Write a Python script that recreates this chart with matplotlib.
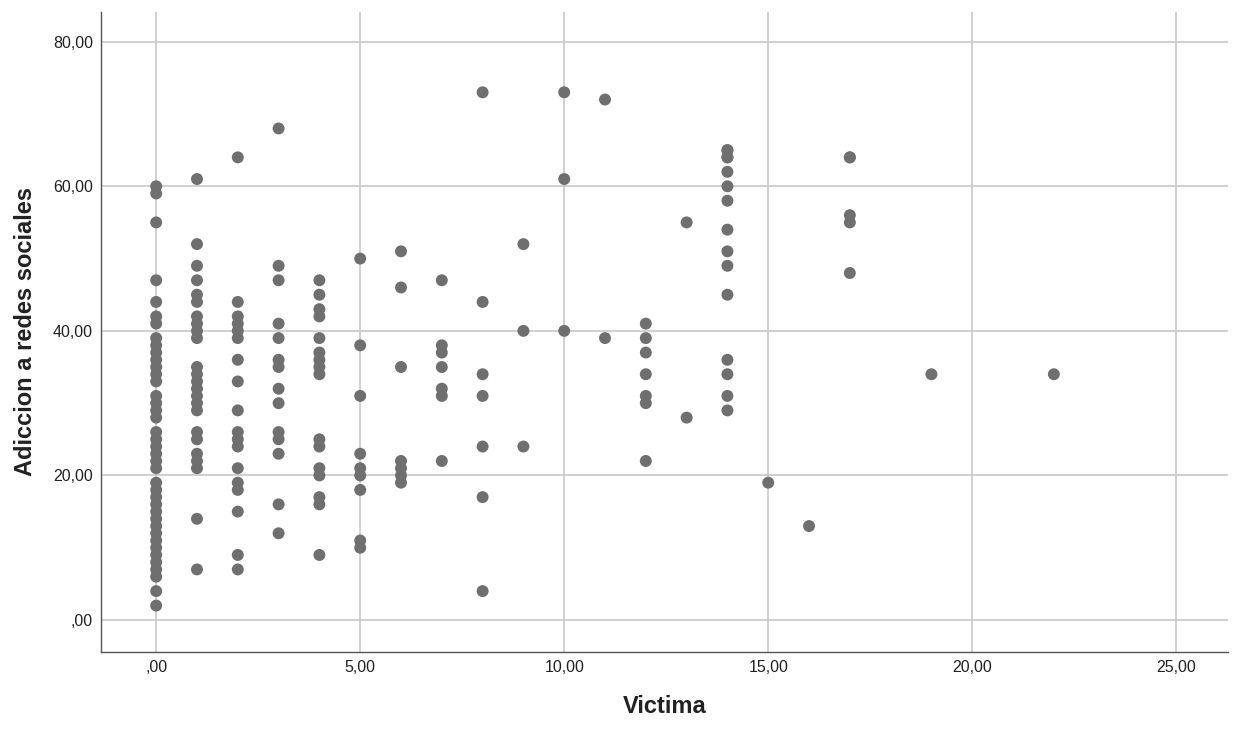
import matplotlib
matplotlib.use("Agg")
import matplotlib.pyplot as plt
from matplotlib.ticker import FuncFormatter

plt.rcParams['font.family'] = ['Liberation Sans', 'DejaVu Sans']

# Victima value -> list of "Adiccion a redes sociales" values
x_levels = [0, 1, 2, 3, 4, 5, 6, 7, 8, 9, 10, 11, 12, 13, 14, 15, 16, 17, 19, 22]
y_groups = [
    [60, 59, 55, 47, 44, 42, 41, 39, 38, 37, 36, 35, 34, 33, 31, 30, 29, 28,
     26, 25, 24, 23, 22, 21, 19, 18, 17, 16, 15, 14, 13, 12, 11, 10, 9, 8, 7, 6, 4, 2],
    [61, 52, 49, 47, 45, 44, 42, 41, 40, 39, 35, 34, 33, 32, 31, 30, 29,
     26, 25, 23, 22, 21, 14, 7],
    [64, 44, 42, 41, 40, 39, 36, 33, 29, 26, 25, 24, 21, 19, 18, 15, 9, 7],
    [68, 49, 47, 41, 39, 36, 35, 32, 30, 26, 25, 23, 16, 12],
    [47, 45, 43, 42, 39, 37, 36, 35, 34, 25, 24, 21, 20, 17, 16, 9],
    [50, 38, 31, 23, 21, 20, 18, 11, 10],
    [51, 46, 35, 22, 21, 20, 19],
    [47, 38, 37, 35, 32, 31, 22],
    [73, 44, 34, 31, 24, 17, 4],
    [52, 40, 24],
    [73, 61, 40],
    [72, 39],
    [41, 39, 37, 34, 31, 30, 22],
    [55, 28],
    [65, 65, 64, 64, 62, 60, 58, 54, 51, 49, 45, 36, 34, 31, 29],
    [19],
    [13],
    [64, 64, 56, 55, 48],
    [34],
    [34],
]

x_ticks = [0, 5, 10, 15, 20, 25]
y_ticks = [0, 20, 40, 60, 80]
x_title = "Victima"
y_title = "Adiccion a redes sociales"

xs, ys = [], []
for xv, grp in zip(x_levels, y_groups):
    for yv in grp:
        xs.append(xv)
        ys.append(yv)

fig = plt.figure(figsize=(12.33, 7.31), dpi=100)
ax = fig.add_axes([0.082, 0.108, 0.914, 0.876])

ax.scatter(xs, ys, s=74, color='#6f6f6f', edgecolors='none', zorder=3)

ax.set_xlim(-1.35, 26.27)
ax.set_ylim(-4.43, 84.15)
ax.set_xticks(x_ticks)
ax.set_yticks(y_ticks)

def fmt(v, pos):
    s = f"{v:.2f}".replace('.', ',')
    if s.startswith('0,'):
        s = s[1:]
    return s

ax.xaxis.set_major_formatter(FuncFormatter(fmt))
ax.yaxis.set_major_formatter(FuncFormatter(fmt))

ax.grid(True, color='#c8c8c8', linewidth=1.2, zorder=0)
ax.set_axisbelow(True)
for sp in ['top', 'right']:
    ax.spines[sp].set_visible(False)
for sp in ['left', 'bottom']:
    ax.spines[sp].set_color('#555555')
    ax.spines[sp].set_linewidth(1.0)

ax.tick_params(axis='both', length=0, labelsize=11.5, colors='#222222')
ax.tick_params(axis='x', pad=6)
ax.tick_params(axis='y', pad=6)

ax.set_xlabel(x_title, fontsize=17, fontweight='bold', labelpad=14, color='#222222')
ax.set_ylabel(y_title, fontsize=17, fontweight='bold', labelpad=11, color='#222222')

fig.savefig('out.png', dpi=100, facecolor='white')
